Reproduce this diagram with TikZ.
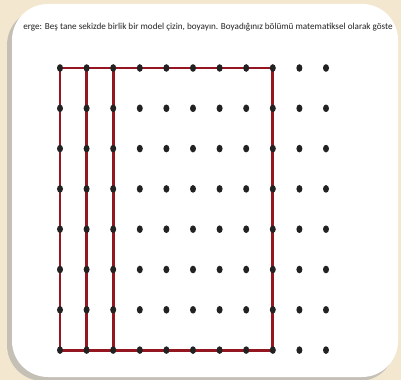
\documentclass[tikz,border=0pt]{standalone}
\usepackage{fontspec}
\setmainfont{Carlito}
\usepackage{tikz}
\usetikzlibrary{shapes.geometric}
\usepackage{xcolor}
\definecolor{paper}{RGB}{244,231,207}
\definecolor{pen}{RGB}{148,22,32}
\definecolor{ink}{RGB}{34,34,34}

\begin{document}
\begin{tikzpicture}[x=0.025cm, y=-0.025cm,
  dot/.style={ellipse, fill=ink, minimum width=0.15cm, minimum height=0.19cm, inner sep=0pt},
  panel/.style={fill=white, rounded corners=0.9cm},
  edge/.style={draw=pen, line width=2.1pt, line join=round, line cap=round}
]
\useasboundingbox (0,0) rectangle (401,380);
\fill[paper] (0,0) rectangle (401,380);
\fill[black!35, opacity=0.6, rounded corners=0.9cm] (7,9) rectangle (395,381);
\fill[panel] (12,4) rectangle (398,377);
\node[font=\fontsize{6.5}{7}\selectfont, text=ink, anchor=west, inner sep=0pt] (task) at (23,27)
  {erge: Beş tane sekizde birlik bir model çizin, boyayın. Boyadığınız bölümü matematiksel olarak göste};
% grid points, drawn first as coordinates so the lines can sit under the dots
\foreach \i in {0,...,10}
  \foreach \j in {0,...,7}
    \coordinate (d-\i-\j) at (60+26.6*\i, 68+40.3*\j);
\draw[edge] (d-0-0) -- (d-8-0) -- (d-8-7) -- (d-0-7) -- cycle;
\draw[edge] (d-1-0) -- (d-1-7);
\draw[edge] (d-2-0) -- (d-2-7);
\foreach \i in {0,...,10}
  \foreach \j in {0,...,7}
    \node[dot] at (d-\i-\j) {};
\end{tikzpicture}
\end{document}
